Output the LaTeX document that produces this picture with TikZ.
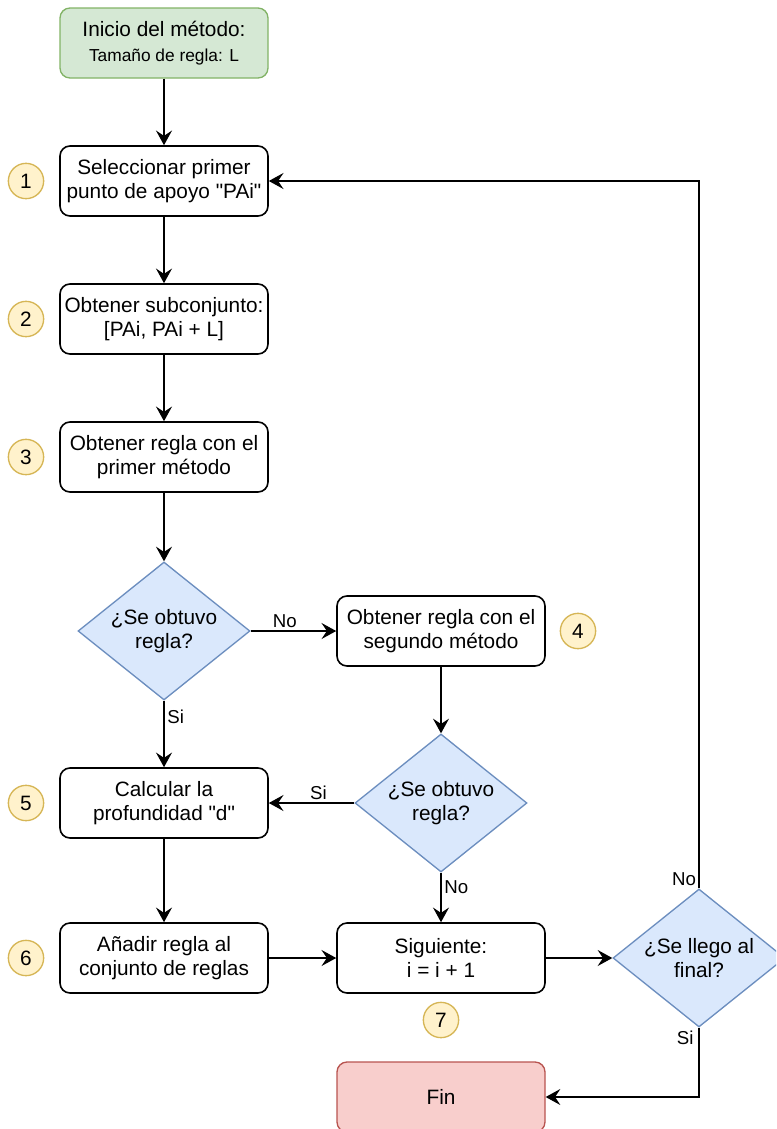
\documentclass[tikz,border=0pt]{standalone}
\usepackage{fontspec}
\setmainfont{Liberation Sans}[Ligatures=TeXOff]
\usetikzlibrary{shapes.geometric,arrows.meta}

\definecolor{startfill}{HTML}{D5E8D4}
\definecolor{startline}{HTML}{82B366}
\definecolor{askfill}{HTML}{DAE8FC}
\definecolor{askline}{HTML}{6C8EBF}
\definecolor{endfill}{HTML}{F8CECC}
\definecolor{endline}{HTML}{B85450}
\definecolor{numfill}{HTML}{FFF2CC}
\definecolor{numline}{HTML}{D6B656}

\newcommand{\mainfs}{\fontsize{15.6}{18}\selectfont}
\newcommand{\smallfs}{\fontsize{13}{15}\selectfont}
\newcommand{\lblfs}{\fontsize{14}{16}\selectfont}

\tikzset{
  stepbox/.style={draw, rounded corners=7.5pt, line width=1.2pt, fill=white,
    minimum width=156pt, minimum height=52.5pt, inner sep=0pt,
    align=center, font=\mainfs},
  startbox/.style={stepbox, draw=startline, fill=startfill, line width=1pt},
  endbox/.style={stepbox, draw=endline, fill=endfill, line width=1pt},
  ask/.style={diamond, draw=askline, fill=askfill, line width=1pt,
    minimum width=129pt, minimum height=103.5pt, inner sep=0pt,
    shape aspect=1.25, align=center, font=\mainfs},
  num/.style={circle, draw=numline, fill=numfill, line width=1pt,
    minimum size=26.5pt, inner sep=0pt, font=\mainfs},
  arr/.style={line width=1.2pt, -{Stealth[length=11pt,width=12pt,inset=4pt]}},
  lbl/.style={font=\lblfs, inner sep=2pt}
}

\begin{document}
\begin{tikzpicture}[x=0.75pt, y=-0.75pt]
\useasboundingbox (0,0) rectangle (776,1129);
\clip (0,0) rectangle (776,1129);

% process steps
\node[startbox] (start) at (164,43) {Inicio del método:\\[1pt]{\smallfs Tamaño de regla: L}};
\node[stepbox] (b1) at (164,181) {Seleccionar primer\\punto de apoyo "PAi"};
\node[stepbox] (b2) at (164,319) {Obtener subconjunto:\\{[}PAi, PAi + L{]}};
\node[stepbox] (b3) at (164,457) {Obtener regla con el\\primer método};
\node[ask] (d1) at (164,631) {¿Se obtuvo\\regla?};
\node[stepbox] (b4) at (441,631) {Obtener regla con el\\segundo método};
\node[ask] (d2) at (441,803) {¿Se obtuvo\\regla?};
\node[stepbox] (b5) at (164,803) {Calcular la\\profundidad "d"};
\node[stepbox] (b6) at (164,958) {Añadir regla al\\conjunto de reglas};
\node[stepbox] (b7) at (441,958) {Siguiente:\\i = i + 1};
\node[ask] (d3) at (699,958) {¿Se llego al\\final?};
\node[endbox] (fin) at (441,1097) {Fin};

% step numbers
\node[num] (n1) at (26,181) {1};
\node[num] (n2) at (26,319) {2};
\node[num] (n3) at (26,457) {3};
\node[num] (n4) at (578,631) {4};
\node[num] (n5) at (26,803) {5};
\node[num] (n6) at (26,958) {6};
\node[num] (n7) at (441,1020) {7};

% connectors
\draw[arr] (start) -- (b1);
\draw[arr] (b1) -- (b2);
\draw[arr] (b2) -- (b3);
\draw[arr] (b3) -- (d1);
\draw[arr] (d1.east) -- node[lbl, above, pos=0.4] {No} (b4.west);
\draw[arr] (d1.south) -- node[lbl, right, pos=0.25] {Si} (b5.north);
\draw[arr] (b4) -- (d2);
\draw[arr] (d2.west) -- node[lbl, above, pos=0.42] {Si} (b5.east);
\draw[arr] (d2.south) -- node[lbl, right, pos=0.3] {No} (b7.north);
\draw[arr] (b5) -- (b6);
\draw[arr] (b6) -- (b7);
\draw[arr] (b7.east) -- (d3.west);
\draw[arr] (d3.north) |- (b1.east);
\draw[arr] (d3.south) |- (fin.east);
\node[lbl, above left] (lno) at (d3.north) {No};
\node[lbl, below left, xshift=-2pt] (lsi) at (d3.south) {Si};
\end{tikzpicture}
\end{document}
